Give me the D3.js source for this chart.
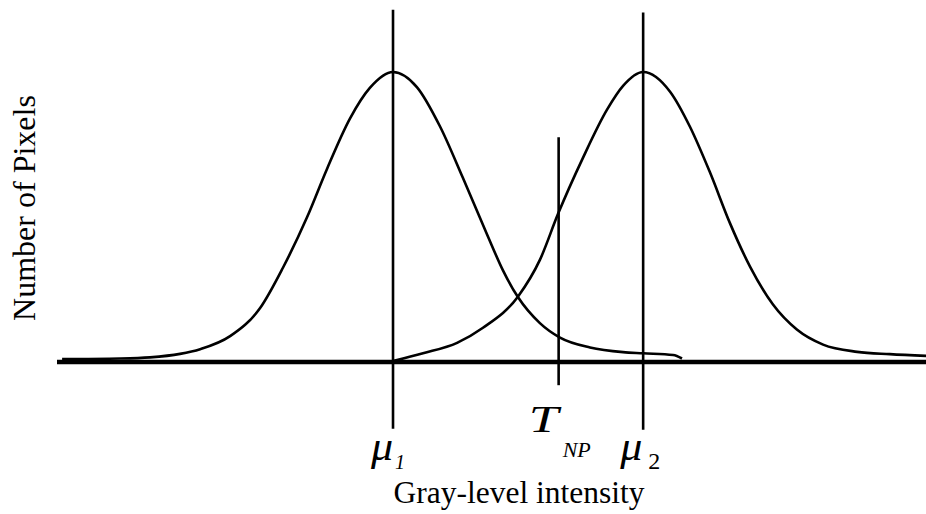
<!DOCTYPE html>
<html>
<head>
<meta charset="utf-8">
<script src="https://cdn.jsdelivr.net/npm/d3@7"></script>
<style>
  html, body { margin: 0; padding: 0; background: #fff; }
  svg { display: block; }
  text { font-family: "Liberation Serif", "Times New Roman", serif; fill: #000; }
</style>
</head>
<body>
<svg id="chart" width="926" height="514"></svg>
<script>
// Gray level (0..255) vs. relative number of pixels (peak = 100)
const class1Gray  = [1.5, 18.5, 27.3, 36.1, 42.0, 50.8, 59.6, 66.3, 73.4, 79.2, 86.0, 91.8, 98.6, 105.6, 112.4, 119.1, 126.2, 130.9, 135.3, 141.7, 147.6, 156.4, 166.1, 172.0, 180.8, 183.4];
const class1Count = [1.0, 1.2, 1.6, 2.8, 4.4, 8.9, 18.6, 32.5, 50.0, 66.5, 84.0, 94.5, 100, 94.8, 81.2, 63.5, 44.0, 31.5, 22.3, 13.4, 8.4, 5.0, 3.4, 3.0, 2.4, 1.2];

const class2Gray  = [98.6, 107.4, 117.4, 125.0, 135.3, 141.7, 147.0, 154.3, 161.4, 166.1, 172.0, 179.9, 185.7, 191.6, 197.5, 203.4, 210.1, 217.1, 224.8, 234.8, 244.4, 255];
const class2Count = [0.3, 3.0, 6.6, 11.8, 22.6, 35.2, 51.0, 70.3, 87.0, 95.2, 100, 93.2, 81.2, 65.4, 47.8, 32.8, 19.8, 11.2, 6.0, 3.5, 2.7, 2.1];

// vertical markers: gray level, top and bottom extent (in count units)
const markerNames  = ["mu1", "TNP", "mu2"];
const markerGray   = [98.6, 147.2, 172.0];
const markerTop    = [121.5, 77.5, 120.5];
const markerBottom = [-23.0, -8.0, -23.4];

const xLabel = "Gray-level intensity";
const yLabel = "Number of Pixels";

const svg = d3.select("#chart");
const x = d3.scaleLinear().domain([0, 255]).range([57, 926]);
const y = d3.scaleLinear().domain([0, 100]).range([362, 72]);

const line = d3.line().x(d => x(d[0])).y(d => y(d[1])).curve(d3.curveMonotoneX);

const s1 = class1Gray.map((g, i) => [g, class1Count[i]]);
const s2 = class2Gray.map((g, i) => [g, class2Count[i]]);

// curves
[s1, s2].forEach(s => {
  svg.append("path").datum(s).attr("d", line)
    .attr("fill", "none").attr("stroke", "#000").attr("stroke-width", 2.6)
    .attr("stroke-linejoin", "round");
});

// baseline (x axis line)
svg.append("line")
  .attr("x1", x(0)).attr("x2", x(255))
  .attr("y1", y(0)).attr("y2", y(0))
  .attr("stroke", "#000").attr("stroke-width", 4.5);

// vertical markers
markerGray.forEach((g, i) => {
  svg.append("line")
    .attr("x1", x(g)).attr("x2", x(g))
    .attr("y1", y(markerTop[i])).attr("y2", y(markerBottom[i]))
    .attr("stroke", "#000").attr("stroke-width", 2.6);
});

// marker labels
function label(px, py, txt, size, italic, sx) {
  svg.append("text")
    .attr("transform", `translate(${px},${py}) scale(${sx || 1},1)`)
    .style("font-size", size + "px")
    .style("font-style", italic ? "italic" : "normal")
    .text(txt);
}
const m1 = x(markerGray[0]), mt = x(markerGray[1]), m2 = x(markerGray[2]);
label(m1 - 22, 460, "\u03BC", 42, true, 1.05);
label(m1 + 2, 469, "1", 20, true, 1);
label(m2 - 23, 460, "\u03BC", 42, true, 1.05);
label(m2 + 5, 469, "2", 24, false, 1);
label(mt - 30, 432, "T", 38, true, 1.4);
label(mt + 4, 457, "NP", 22, true, 1);

// axis titles
svg.append("text")
  .attr("x", 519).attr("y", 503)
  .attr("text-anchor", "middle")
  .style("font-size", "31.5px")
  .text(xLabel);

svg.append("text")
  .attr("transform", "translate(35,208) rotate(-90)")
  .attr("text-anchor", "middle")
  .style("font-size", "32px")
  .text(yLabel);
</script>
</body>
</html>
